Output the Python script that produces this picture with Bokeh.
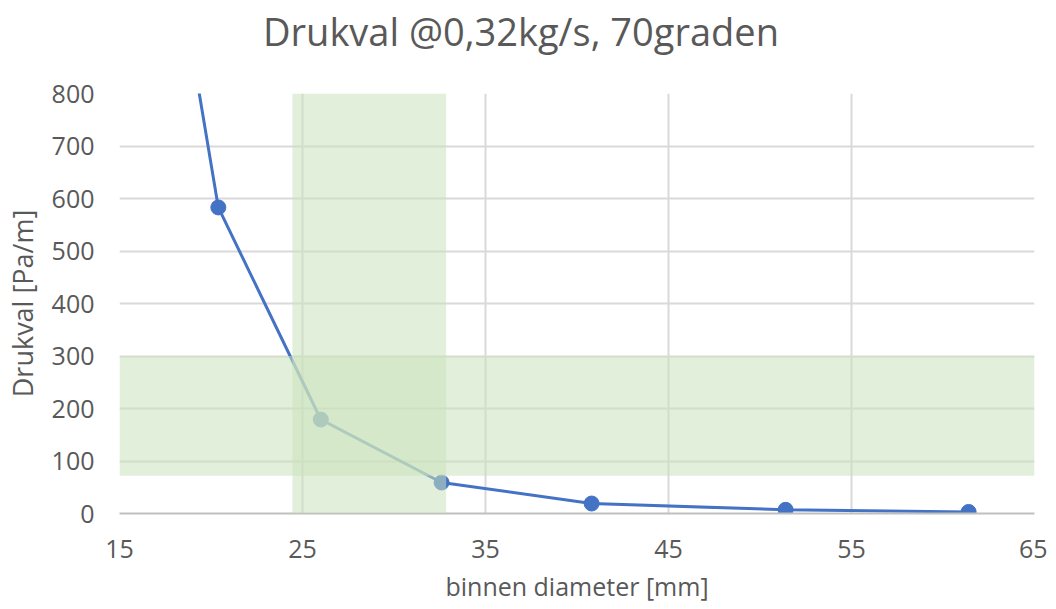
from bokeh.plotting import figure
from bokeh.models import BoxAnnotation, Range1d, FixedTicker, Div
from bokeh.layouts import column
from bokeh.embed import file_html
from bokeh.resources import INLINE

# data
diameter = [16.0, 20.4, 26.0, 32.6, 40.8, 51.4, 61.4]   # binnen diameter [mm]
drukval = [1500, 583, 179, 59, 19, 7, 3]                # Pa/m
band_x = [24.45, 32.85]   # highlighted diameter range
band_y = [72, 300]        # highlighted pressure-drop range
x_ticks = [15, 25, 35, 45, 55, 65]
y_ticks = [0, 100, 200, 300, 400, 500, 600, 700, 800]
title_text = "Drukval @0,32kg/s, 70graden"

FONT = "Open Sans"
GREY = "#595959"
BLUE = "#4472C4"

p = figure(frame_width=915, frame_height=420,
           min_border_left=112, min_border_right=13,
           min_border_top=20, min_border_bottom=87,
           x_range=Range1d(15, 65), y_range=Range1d(0, 800),
           output_backend="svg", toolbar_location=None, title=None)

p.line(diameter, drukval, line_color=BLUE, line_width=3)
p.scatter(diameter, drukval, size=15, fill_color=BLUE, line_color=BLUE)

p.add_layout(BoxAnnotation(left=band_x[0], right=band_x[1],
                           fill_color="#C9E1BA", fill_alpha=0.54, line_color=None))
p.add_layout(BoxAnnotation(bottom=band_y[0], top=band_y[1],
                           fill_color="#C9E1BA", fill_alpha=0.54, line_color=None))

title = Div(text=('<div style="font-family:\'Open Sans\';font-size:38px;color:%s;'
                  'text-align:center;line-height:1.2;width:1032px;padding-top:4px;'
                  'white-space:nowrap">%s</div>') % (GREY, title_text),
            width=1040, height=63)

p.outline_line_color=None
for ax in (p.xaxis[0], p.yaxis[0]):
    ax.major_tick_line_color = None
    ax.minor_tick_line_color = None
    ax.major_label_text_font = FONT
    ax.major_label_text_font_size = "25px"
    ax.major_label_text_color = GREY
    ax.axis_label_text_font = FONT
    ax.axis_label_text_font_size = "27px"
    ax.axis_label_text_font_style = "normal"
    ax.axis_label_text_color = GREY

p.xaxis.axis_label_text_font_size = "25px"
p.xaxis.ticker = FixedTicker(ticks=x_ticks)
p.yaxis.ticker = FixedTicker(ticks=y_ticks)
p.xaxis.axis_label = "binnen diameter [mm]"
p.yaxis.axis_label = "Drukval [Pa/m]"
p.xaxis.axis_line_color = "#BFBFBF"
p.xaxis.axis_line_width = 2
p.yaxis.axis_line_color = None
p.xaxis.major_label_standoff = 20
p.yaxis.major_label_standoff = 19
p.xaxis.axis_label_standoff = 8
p.yaxis.axis_label_standoff = 8

p.xgrid.grid_line_color = "#D9D9D9"
p.ygrid.grid_line_color = "#D9D9D9"
p.xgrid.grid_line_width = 2
p.ygrid.grid_line_width = 2

layout = column(title, p, spacing=0)
open("out.html", "w").write(file_html(layout, INLINE))
